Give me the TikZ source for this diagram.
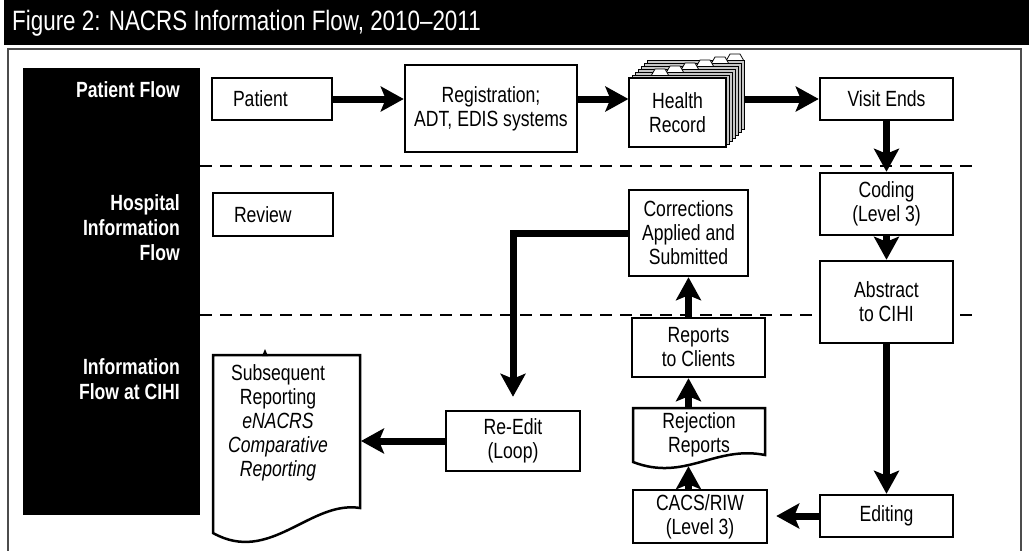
\documentclass[tikz,border=0pt]{standalone}
\usepackage{fontspec}
\setmainfont{Liberation Sans}[FakeStretch=0.8]
\usetikzlibrary{arrows.meta}
\begin{document}
\begin{tikzpicture}[x=1pt,y=-1pt,line join=miter,
  box/.style={draw,line width=2.5pt,fill=white,inner sep=0pt,align=center,font=\fontsize{22}{24}\selectfont},
  doc/.style={inner sep=0pt,align=center,font=\fontsize{22}{24}\selectfont},
  flow/.style={line width=7pt,-{Stealth[length=23pt,width=25pt,inset=5pt]}},
  lane/.style={text=white,align=right,anchor=east,inner sep=0pt,font=\fontsize{22}{25}\selectfont\bfseries},
  sep/.style={dash pattern=on 12pt off 8pt,line width=2pt}]
\useasboundingbox (0,0) rectangle (1029,550);
\fill[black] (4,0) rectangle (1029,45);
\node[anchor=west,text=white,inner sep=0pt,font=\fontsize{28}{30}\selectfont] (title) at (12,23) {Figure 2: NACRS Information Flow, 2010--2011};
\draw[line width=2pt,black!70] (8,560) |- (1021,49) -- (1021,560);
\fill[black] (23,68) rectangle (200,515);
\node[lane] (lpat) at (180,90) {Patient Flow};
\node[lane] (lhosp) at (180,228) {Hospital\\Information\\Flow};
\node[lane] (lcihi) at (180,379) {Information\\Flow at CIHI};
\draw[sep] (200,166) -- (977,166);
\draw[sep] (200,315) -- (977,315);
\node[box,minimum width=120pt,minimum height=42pt,text width=78pt,inner xsep=21pt,align=left] (pat) at (272,99) {Patient};
\node[box,minimum width=172pt,minimum height=87pt] (reg) at (491,108.5) {Registration;\\ADT, EDIS systems};
\foreach \k in {6,...,1}{
  \draw[fill=white,line width=0.8pt] (636+15*\k,79-3*\k) -- ++(4,-7) -- ++(10,0) -- ++(4,7);
  \draw[fill=gray!45,line width=0.8pt] (629+3*\k,78-3*\k) rectangle (726+3*\k,147-3*\k);
}
\node[box,line width=1.2pt,minimum width=97pt,minimum height=69pt] (hr) at (677.5,112.5) {Health\\Record};
\coordinate (stack) at (744,99);
\node[box,minimum width=133pt,minimum height=42pt] (visit) at (886.5,99) {Visit Ends};
\node[box,minimum width=120pt,minimum height=43pt,text width=78pt,inner xsep=21pt,align=left] (rev) at (273,214.5) {Review};
\node[box,minimum width=119pt,minimum height=86pt] (corr) at (688.5,233) {Corrections\\Applied and\\Submitted};
\node[box,minimum width=133pt,minimum height=62pt] (cod) at (886.5,204) {Coding\\(Level 3)};
\node[box,minimum width=133pt,minimum height=82pt] (abs) at (886.5,302) {Abstract\\to CIHI};
\node[box,minimum width=133pt,minimum height=59pt] (rep) at (698.5,347.5) {Reports\\to Clients};
\draw[line width=2.5pt] (633,408) -- (765,408) -- (765,455) .. controls (715,445) and (685,482) .. (633,462) -- cycle;
\node[doc,minimum width=132pt,minimum height=58pt,text depth=9pt] (rej) at (699,437) {Rejection\\Reports};
\node[box,minimum width=134pt,minimum height=53pt] (cacs) at (700,516.5) {CACS/RIW\\(Level 3)};
\node[box,minimum width=133pt,minimum height=42pt] (edit) at (886.5,516) {Editing};
\node[box,minimum width=134pt,minimum height=60pt] (reed) at (513,441) {Re-Edit\\(Loop)};
\draw[line width=2.5pt] (213,355) -- (360,355) -- (360,508) .. controls (310,500) and (270,565) .. (213,533) -- cycle;
\fill (262,356) -- (265,349) -- (268,356) -- cycle;
\node[doc] (subs) at (278,422.5) {Subsequent\\Reporting\\\textit{eNACRS}\\\textit{Comparative}\\\textit{Reporting}};
\coordinate (subsr) at (361,441);
\draw[flow] (pat.east) -- (pat.east -| reg.west);
\draw[flow] (reg.east |- pat.east) -- (pat.east -| hr.west);
\draw[flow] (stack) -- (visit.west);
\draw[flow] (visit.south) -- (cod.north);
\draw[flow] (cod.south) -- (abs.north);
\draw[flow] (abs.south) -- (edit.north);
\draw[flow,shorten >=8pt] (edit.west) -- (edit.west -| cacs.east);
\draw[flow] (cacs.north -| corr.south) -- (rej.south -| corr.south);
\draw[flow] (rej.north -| corr.south) -- (rep.south -| corr.south);
\draw[flow] (rep.north -| corr.south) -- (corr.south);
\draw[flow,shorten >=13pt] (corr.west) -| (reed.north);
\draw[flow] (reed.west) -- (subsr);
\end{tikzpicture}
\end{document}
